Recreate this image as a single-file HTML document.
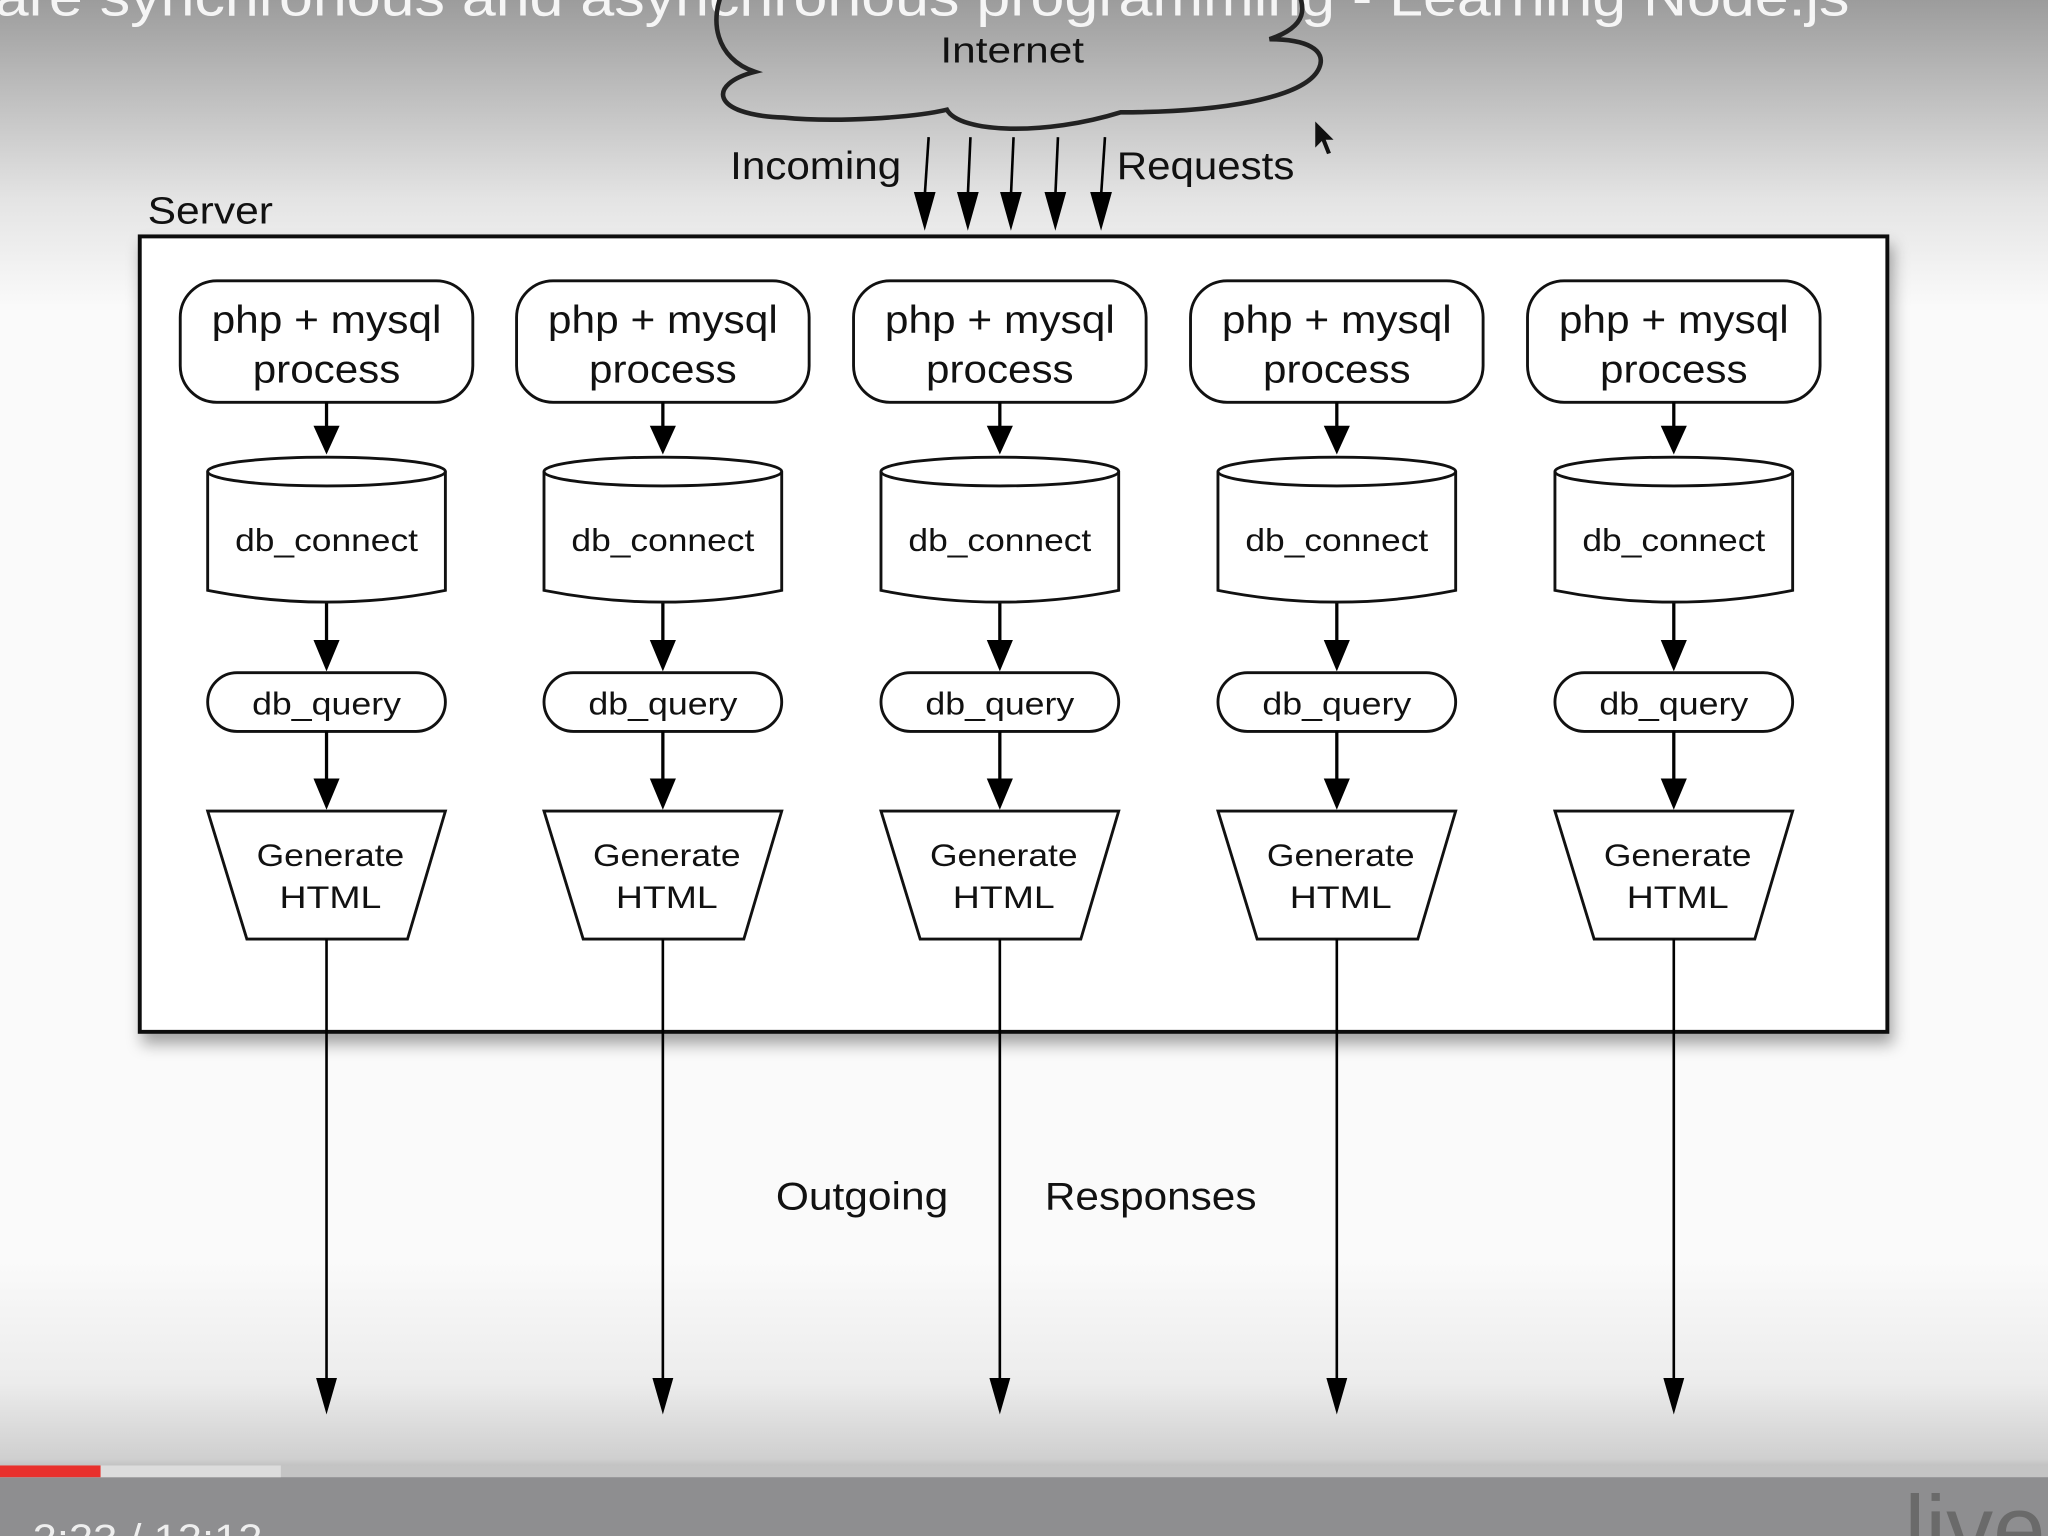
<!DOCTYPE html>
<html><head><meta charset="utf-8"><style>
html,body{margin:0;padding:0;width:2048px;height:1536px;overflow:hidden;background:#fff}
svg{display:block}
text{font-family:"Liberation Sans",sans-serif}
</style></head><body>
<svg width="2048" height="1536" viewBox="0 0 1568 1176" xmlns="http://www.w3.org/2000/svg">
<defs>
<linearGradient id="bg" x1="0" y1="0" x2="0" y2="1176" gradientUnits="userSpaceOnUse">
<stop offset="0" stop-color="#9c9c9c"/>
<stop offset="0.05" stop-color="#b8b8b8"/>
<stop offset="0.13" stop-color="#e4e4e4"/>
<stop offset="0.2" stop-color="#fafafa"/>
<stop offset="0.82" stop-color="#fafafa"/>
<stop offset="0.9" stop-color="#ececec"/>
<stop offset="0.95" stop-color="#cfcfcf"/>
<stop offset="0.96" stop-color="#b0b0b0"/>
<stop offset="1" stop-color="#7e7e80"/>
</linearGradient>
<filter id="sh" x="-5%" y="-5%" width="110%" height="115%"><feDropShadow dx="3" dy="8" stdDeviation="6" flood-color="#000" flood-opacity="0.35"/></filter>
</defs>
<rect width="1568" height="1176" fill="url(#bg)"/>
<rect x="0" y="1130" width="1568" height="46" fill="#8e8e90"/>
<text x="-4" y="12" font-size="42" fill="#fff" opacity="0.9" textLength="1420" lengthAdjust="spacingAndGlyphs">are synchronous and asynchronous programming - Learning Node.js</text>
<path d="M555,-10 C542,15 548,45 578,55 C542,64 543,88 600,90 C640,94 700,90 725,84 C735,102 800,104 858,86 C930,86 1000,76 1010,52 C1016,38 1000,30 972,30 C1002,20 1000,5 992,-10" fill="none" stroke="#222" stroke-width="3.5"/>
<text x="775" y="48" font-size="28" text-anchor="middle" fill="#111" textLength="110" lengthAdjust="spacingAndGlyphs">Internet</text>
<path d="M1007,93 L1007,113 L1012,108 L1016,118 L1019,117 L1015,107 L1021,107 z" fill="#111"/>
<text x="559" y="137" font-size="30" fill="#111" textLength="131" lengthAdjust="spacingAndGlyphs">Incoming</text>
<text x="855" y="137" font-size="30" fill="#111" textLength="136" lengthAdjust="spacingAndGlyphs">Requests</text>
<g fill="#000" stroke="#000" stroke-width="2">
<line x1="711" y1="105" x2="708" y2="150"/><path d="M701,148 L715,148 L708,173 z"/>
<line x1="743" y1="105" x2="741" y2="150"/><path d="M734,148 L748,148 L741,173 z"/>
<line x1="776" y1="105" x2="774" y2="150"/><path d="M767,148 L781,148 L774,173 z"/>
<line x1="810" y1="105" x2="808" y2="150"/><path d="M801,148 L815,148 L808,173 z"/>
<line x1="846" y1="105" x2="843" y2="150"/><path d="M836,148 L850,148 L843,173 z"/>
</g>
<text x="113" y="171" font-size="29" fill="#111" textLength="96" lengthAdjust="spacingAndGlyphs">Server</text>
<rect x="107" y="181" width="1338" height="609" fill="#fff" stroke="#111" stroke-width="3" filter="url(#sh)"/>
<g id="col">
<rect x="138" y="215" width="224" height="93" rx="28" fill="#fff" stroke="#111" stroke-width="2.2"/>
<text x="250" y="255" font-size="30" text-anchor="middle" fill="#111" textLength="176" lengthAdjust="spacingAndGlyphs">php + mysql</text>
<text x="250" y="293" font-size="30" text-anchor="middle" fill="#111" textLength="113" lengthAdjust="spacingAndGlyphs">process</text>
<line x1="250" y1="308" x2="250" y2="330" stroke="#000" stroke-width="2.5"/>
<path d="M240,326 L260,326 L250,348 z"/>
<path d="M159,361 L159,452 Q250,470 341,452 L341,361" fill="#fff" stroke="#111" stroke-width="2.2"/>
<ellipse cx="250" cy="361" rx="91" ry="11" fill="#fff" stroke="#111" stroke-width="2.2"/>
<text x="250" y="422" font-size="24" text-anchor="middle" fill="#111" textLength="140" lengthAdjust="spacingAndGlyphs">db_connect</text>
<line x1="250" y1="462" x2="250" y2="495" stroke="#000" stroke-width="2.5"/>
<path d="M240,490 L260,490 L250,514 z"/>
<rect x="159" y="515" width="182" height="45" rx="22.5" fill="#fff" stroke="#111" stroke-width="2.2"/>
<text x="250" y="547" font-size="24" text-anchor="middle" fill="#111" textLength="114" lengthAdjust="spacingAndGlyphs">db_query</text>
<line x1="250" y1="560" x2="250" y2="600" stroke="#000" stroke-width="2.5"/>
<path d="M240,596 L260,596 L250,620 z"/>
<path d="M159,621 L341,621 L312,719 L189,719 z" fill="#fff" stroke="#111" stroke-width="2.2"/>
<text x="253" y="663" font-size="24" text-anchor="middle" fill="#111" textLength="113" lengthAdjust="spacingAndGlyphs">Generate</text>
<text x="253" y="695" font-size="24" text-anchor="middle" fill="#111" textLength="78" lengthAdjust="spacingAndGlyphs">HTML</text>
<line x1="250" y1="719" x2="250" y2="1060" stroke="#000" stroke-width="2"/>
<path d="M242,1055 L258,1055 L250,1083 z"/>
</g>
<use href="#col" x="257.5"/>
<use href="#col" x="515.5"/>
<use href="#col" x="773.5"/>
<use href="#col" x="1031.5"/>
<text x="594" y="926" font-size="30" fill="#111" textLength="132" lengthAdjust="spacingAndGlyphs">Outgoing</text>
<text x="800" y="926" font-size="30" fill="#111" textLength="162" lengthAdjust="spacingAndGlyphs">Responses</text>
<rect x="0" y="1122" width="1568" height="9" fill="#c4c4c4"/>
<rect x="0" y="1122" width="215" height="9" fill="#dcdcdc"/>
<rect x="0" y="1122" width="77" height="9" fill="#e8302c"/>
<text x="25" y="1188" font-size="30" fill="#eee" textLength="176" lengthAdjust="spacingAndGlyphs">2:23 / 12:12</text>
<text x="1458" y="1195" font-size="72" fill="#6a6a6a">live</text>
</svg>
</body></html>
